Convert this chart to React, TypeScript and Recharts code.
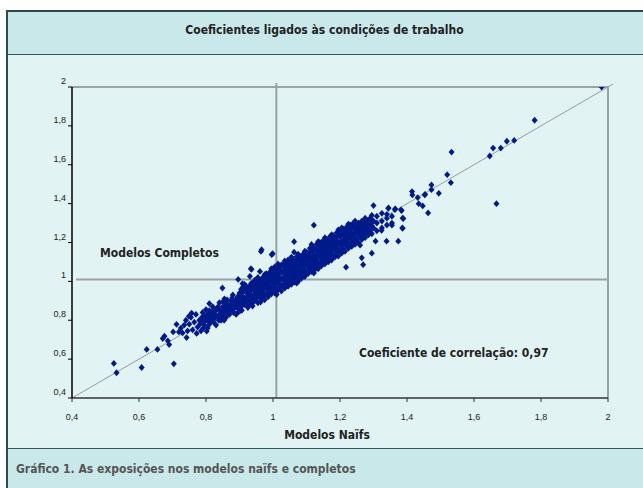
import React from 'react';
import { ScatterChart, Scatter, XAxis, YAxis, ReferenceLine } from 'recharts';

const xTicks = [0.4, 0.6, 0.8, 1, 1.2, 1.4, 1.6, 1.8, 2];
const yTicks = [0.4, 0.6, 0.8, 1, 1.2, 1.4, 1.6, 1.8, 2];

// [modelos naïfs, modelos completos]
const outliers: [number, number][] = [
  [1.981, 2.0], [1.781, 1.829], [1.698, 1.721], [1.72, 1.725], [1.657, 1.686], [1.68, 1.686],
  [1.647, 1.645], [1.533, 1.665], [1.667, 1.4], [1.52, 1.549], [1.531, 1.508], [1.473, 1.496],
  [1.473, 1.472], [1.495, 1.453], [1.415, 1.462], [1.416, 1.445], [1.453, 1.445], [1.432, 1.431],
  [1.435, 1.4], [1.447, 1.388], [1.463, 1.352], [1.3, 1.39], [1.344, 1.376], [1.365, 1.373],
  [1.382, 1.368], [1.389, 1.323], [1.386, 1.275], [1.122, 1.289], [1.063, 1.204], [1.063, 1.15],
  [0.999, 1.142], [1.306, 1.207], [1.339, 1.207], [1.374, 1.207], [1.295, 1.145], [1.265, 1.121],
  [1.269, 1.086], [1.218, 1.073], [1.324, 1.262], [1.355, 1.289], [1.387, 1.273], [1.387, 1.325],
  [1.364, 1.369], [1.384, 1.364], [1.345, 1.378], [1.454, 1.448], [1.26, 1.186], [1.122, 1.043],
  [1.071, 0.991], [1.011, 0.932], [0.966, 1.163], [0.964, 1.154], [0.996, 1.138], [0.934, 1.065],
  [0.936, 1.062], [0.961, 1.051], [0.931, 1.026], [0.909, 0.988], [0.896, 1.01], [0.849, 0.966],
  [0.525, 0.578], [0.533, 0.53], [0.608, 0.557], [0.704, 0.576], [0.623, 0.65], [0.655, 0.65],
  [0.671, 0.706], [0.676, 0.718], [0.686, 0.694], [0.69, 0.675], [0.702, 0.74], [0.712, 0.779],
  [0.719, 0.74], [0.742, 0.711], [0.749, 0.82], [0.757, 0.837], [0.772, 0.732], [0.802, 0.744],
  [0.81, 0.886], [0.854, 0.8], [0.907, 0.851], [0.939, 0.873], [0.963, 0.894], [1.31, 1.335],
  [1.325, 1.35], [1.34, 1.345],
];

const cloudLow: [number, number][] = [
  [0.725, 0.76], [0.73, 0.735], [0.735, 0.775], [0.74, 0.8], [0.745, 0.745], [0.75, 0.78],
  [0.755, 0.815], [0.76, 0.75], [0.765, 0.79], [0.77, 0.83], [0.775, 0.765], [0.78, 0.8],
  [0.785, 0.745], [0.79, 0.84], [0.795, 0.775], [0.8, 0.81], [0.8, 0.855], [0.805, 0.76],
  [0.81, 0.83], [0.815, 0.79], [0.82, 0.87], [0.82, 0.805], [0.825, 0.845], [0.83, 0.775],
  [0.835, 0.82], [0.84, 0.89], [0.84, 0.855], [0.845, 0.8], [0.85, 0.835], [0.85, 0.87],
  [0.855, 0.91], [0.86, 0.815], [0.86, 0.85], [0.865, 0.885], [0.87, 0.83], [0.87, 0.865],
  [0.875, 0.9], [0.88, 0.845], [0.88, 0.93], [0.885, 0.875], [0.89, 0.905], [0.89, 0.83],
  [0.895, 0.86], [0.9, 0.89], [0.9, 0.94],
];

const fillLow: [number, number][] = [
  [0.782, 0.78], [0.788, 0.815], [0.792, 0.76], [0.798, 0.795], [0.803, 0.83], [0.808, 0.775],
  [0.812, 0.81], [0.818, 0.845], [0.823, 0.79], [0.828, 0.825], [0.832, 0.86], [0.838, 0.8],
  [0.842, 0.835], [0.848, 0.815], [0.852, 0.855], [0.857, 0.89], [0.862, 0.835], [0.867, 0.87],
  [0.872, 0.85], [0.877, 0.88], [0.882, 0.86], [0.887, 0.895], [0.892, 0.875], [0.897, 0.915],
  [0.898, 0.845],
];

const fillLow2: [number, number][] = [
  [0.785, 0.79], [0.79, 0.805], [0.796, 0.82], [0.806, 0.8], [0.81, 0.85], [0.814, 0.82],
  [0.82, 0.835], [0.826, 0.81], [0.83, 0.85], [0.836, 0.87], [0.84, 0.82], [0.845, 0.845],
  [0.85, 0.895], [0.855, 0.83], [0.858, 0.87], [0.863, 0.905], [0.868, 0.845], [0.873, 0.875],
  [0.878, 0.915], [0.883, 0.84], [0.886, 0.865], [0.89, 0.885], [0.894, 0.92], [0.898, 0.9],
  [0.902, 0.85], [0.908, 0.88], [0.912, 0.975], [0.918, 0.9], [0.922, 0.96], [0.928, 0.88],
  [0.932, 0.92], [0.938, 0.97], [0.942, 0.905], [0.948, 0.95], [0.952, 0.99], [0.958, 0.94],
  [0.962, 0.975], [0.968, 1.0], [0.972, 0.94], [0.978, 0.985], [0.982, 1.02], [0.988, 0.94],
  [0.992, 1.05], [0.998, 0.95], [1.002, 1.03], [1.008, 1.06],
];

const cloudMid: [number, number][] = [
  [0.905, 0.87], [0.905, 0.905], [0.905, 0.935], [0.905, 0.96],
  [0.915, 0.88], [0.915, 0.915], [0.915, 0.95], [0.915, 0.985],
  [0.925, 0.865], [0.925, 0.895], [0.925, 0.93], [0.925, 0.965],
  [0.935, 0.885], [0.935, 0.92], [0.935, 0.955], [0.935, 0.99],
  [0.945, 0.9], [0.945, 0.935], [0.945, 0.97], [0.945, 1.005],
  [0.955, 0.89], [0.955, 0.925], [0.955, 0.96], [0.955, 0.995], [0.955, 1.02],
  [0.965, 0.91], [0.965, 0.945], [0.965, 0.98], [0.965, 1.01],
  [0.975, 0.905], [0.975, 0.935], [0.975, 0.97], [0.975, 1.0], [0.975, 1.035],
  [0.985, 0.92], [0.985, 0.955], [0.985, 0.99], [0.985, 1.025],
  [0.995, 0.935], [0.995, 0.965], [0.995, 1.0], [0.995, 1.035], [0.995, 1.065],
  [1.005, 0.94], [1.005, 0.975], [1.005, 1.01], [1.005, 1.045], [1.005, 1.075],
  [1.015, 0.955], [1.015, 0.99], [1.015, 1.02], [1.015, 1.055], [1.015, 1.09],
  [1.025, 0.95], [1.025, 0.98], [1.025, 1.015], [1.025, 1.05], [1.025, 1.085],
  [1.035, 0.965], [1.035, 1.0], [1.035, 1.035], [1.035, 1.07], [1.035, 1.105],
  [1.045, 0.975], [1.045, 1.01], [1.045, 1.045], [1.045, 1.08], [1.045, 1.11],
  [1.055, 0.985], [1.055, 1.02], [1.055, 1.055], [1.055, 1.09], [1.055, 1.125],
  [1.065, 0.995], [1.065, 1.03], [1.065, 1.065], [1.065, 1.1],
  [1.075, 1.0], [1.075, 1.04], [1.075, 1.075], [1.075, 1.11], [1.075, 1.14],
  [1.085, 1.015], [1.085, 1.05], [1.085, 1.085], [1.085, 1.12],
  [1.095, 1.025], [1.095, 1.06], [1.095, 1.095], [1.095, 1.13], [1.095, 1.155],
];

const fillMid: [number, number][] = [
  [0.91, 0.89], [0.91, 0.92], [0.91, 0.95],
  [0.92, 0.88], [0.92, 0.91], [0.92, 0.945], [0.92, 0.975],
  [0.93, 0.9], [0.93, 0.94], [0.93, 0.975],
  [0.94, 0.89], [0.94, 0.925], [0.94, 0.96], [0.94, 0.99],
  [0.95, 0.91], [0.95, 0.945], [0.95, 0.98], [0.95, 1.01],
  [0.96, 0.925], [0.96, 0.96], [0.96, 0.995],
  [0.97, 0.92], [0.97, 0.955], [0.97, 0.99], [0.97, 1.02],
  [0.98, 0.935], [0.98, 0.97], [0.98, 1.005], [0.98, 1.04],
  [0.99, 0.945], [0.99, 0.975], [0.99, 1.01], [0.99, 1.045],
  [1.0, 0.955], [1.0, 0.99], [1.0, 1.02], [1.0, 1.055],
  [1.01, 0.96], [1.01, 0.995], [1.01, 1.03], [1.01, 1.065],
  [1.02, 0.97], [1.02, 1.005], [1.02, 1.04], [1.02, 1.07],
  [1.03, 0.98], [1.03, 1.015], [1.03, 1.05], [1.03, 1.085],
  [1.04, 0.99], [1.04, 1.025], [1.04, 1.06], [1.04, 1.09],
  [1.05, 1.0], [1.05, 1.035], [1.05, 1.07], [1.05, 1.1],
  [1.06, 1.005], [1.06, 1.045], [1.06, 1.08], [1.06, 1.11],
  [1.07, 1.015], [1.07, 1.05], [1.07, 1.085], [1.07, 1.125],
  [1.08, 1.025], [1.08, 1.06], [1.08, 1.1], [1.08, 1.13],
  [1.09, 1.035], [1.09, 1.075], [1.09, 1.11], [1.09, 1.14],
  [1.1, 1.045], [1.1, 1.085], [1.1, 1.12], [1.1, 1.15],
];

const cloudHigh: [number, number][] = [
  [1.105, 1.04], [1.105, 1.075], [1.105, 1.11], [1.105, 1.145],
  [1.115, 1.05], [1.115, 1.085], [1.115, 1.12], [1.115, 1.155], [1.115, 1.19],
  [1.125, 1.06], [1.125, 1.095], [1.125, 1.13], [1.125, 1.165],
  [1.135, 1.065], [1.135, 1.1], [1.135, 1.14], [1.135, 1.175], [1.135, 1.205],
  [1.145, 1.08], [1.145, 1.115], [1.145, 1.15], [1.145, 1.185],
  [1.155, 1.09], [1.155, 1.125], [1.155, 1.16], [1.155, 1.195], [1.155, 1.225],
  [1.165, 1.1], [1.165, 1.135], [1.165, 1.17], [1.165, 1.205],
  [1.175, 1.11], [1.175, 1.145], [1.175, 1.18], [1.175, 1.215], [1.175, 1.24],
  [1.185, 1.125], [1.185, 1.16], [1.185, 1.19], [1.185, 1.225],
  [1.195, 1.13], [1.195, 1.165], [1.195, 1.2], [1.195, 1.235], [1.195, 1.265],
  [1.205, 1.145], [1.205, 1.18], [1.205, 1.21], [1.205, 1.245], [1.205, 1.275],
  [1.215, 1.155], [1.215, 1.19], [1.215, 1.225], [1.215, 1.26],
  [1.225, 1.17], [1.225, 1.2], [1.225, 1.235], [1.225, 1.27], [1.225, 1.295],
  [1.235, 1.18], [1.235, 1.215], [1.235, 1.245], [1.235, 1.28],
  [1.245, 1.19], [1.245, 1.225], [1.245, 1.26], [1.245, 1.29], [1.245, 1.31],
  [1.255, 1.2], [1.255, 1.24], [1.255, 1.27], [1.255, 1.3],
  [1.265, 1.215], [1.265, 1.25], [1.265, 1.28], [1.265, 1.31],
  [1.275, 1.225], [1.275, 1.26], [1.275, 1.295], [1.275, 1.325],
  [1.285, 1.24], [1.285, 1.27], [1.285, 1.3],
  [1.295, 1.245], [1.295, 1.285], [1.295, 1.315], [1.295, 1.34],
  [1.31, 1.26], [1.31, 1.3], [1.325, 1.275], [1.325, 1.31],
  [1.34, 1.29], [1.34, 1.325], [1.355, 1.3], [1.355, 1.335],
];

const fillHigh: [number, number][] = [
  [1.11, 1.06], [1.11, 1.095], [1.11, 1.13], [1.11, 1.17],
  [1.12, 1.07], [1.12, 1.105], [1.12, 1.14], [1.12, 1.175],
  [1.13, 1.08], [1.13, 1.115], [1.13, 1.155], [1.13, 1.19],
  [1.14, 1.09], [1.14, 1.13], [1.14, 1.165], [1.14, 1.2],
  [1.15, 1.1], [1.15, 1.14], [1.15, 1.175], [1.15, 1.21],
  [1.16, 1.11], [1.16, 1.15], [1.16, 1.185], [1.16, 1.215],
  [1.17, 1.12], [1.17, 1.16], [1.17, 1.195], [1.17, 1.23],
  [1.18, 1.13], [1.18, 1.17], [1.18, 1.205], [1.18, 1.235],
  [1.19, 1.14], [1.19, 1.18], [1.19, 1.21], [1.19, 1.25],
  [1.2, 1.155], [1.2, 1.195], [1.2, 1.23], [1.2, 1.26],
  [1.21, 1.165], [1.21, 1.205], [1.21, 1.24], [1.21, 1.27],
  [1.22, 1.18], [1.22, 1.215], [1.22, 1.25], [1.22, 1.28],
  [1.23, 1.195], [1.23, 1.23], [1.23, 1.26], [1.23, 1.29],
  [1.24, 1.205], [1.24, 1.24], [1.24, 1.275], [1.24, 1.3],
  [1.25, 1.215], [1.25, 1.255], [1.25, 1.285],
  [1.26, 1.23], [1.26, 1.265], [1.26, 1.295],
  [1.27, 1.24], [1.27, 1.275], [1.27, 1.31],
  [1.28, 1.25], [1.28, 1.285], [1.28, 1.315],
  [1.29, 1.26], [1.29, 1.295], [1.29, 1.325],
  [1.3, 1.275], [1.3, 1.31],
];

const points = [
  ...cloudLow, ...fillLow, ...fillLow2, ...cloudMid, ...fillMid, ...cloudHigh, ...fillHigh, ...outliers,
].map(([x, y]) => ({ x, y }));

const fmt = (v: number) => String(v).replace('.', ',');

const Diamond = (props: any) => {
  const { cx, cy } = props;
  if (cx == null || cy == null) return null;
  return (
    <polygon
      points={`${cx},${cy - 3.4} ${cx + 3},${cy} ${cx},${cy + 3.4} ${cx - 3},${cy}`}
      fill="#001a8c"
    />
  );
};

const YTick = (props: any) => {
  const { x, y, payload } = props;
  return (
    <text x={x} y={y - 3} textAnchor="end" fontSize={9} fill="#222" fontFamily="Liberation Sans, Arial, sans-serif">
      {fmt(payload.value)}
    </text>
  );
};

const XTick = (props: any) => {
  const { x, y, payload } = props;
  return (
    <text x={x} y={y + 16} textAnchor="middle" fontSize={9} fill="#222" fontFamily="Liberation Sans, Arial, sans-serif">
      {fmt(payload.value)}
    </text>
  );
};

const grey = '#9aa3a3';
const bold = '"DejaVu Sans Condensed", "Open Sans", sans-serif';

export default function App() {
  return (
    <div style={{ position: 'absolute', left: 0, top: 0, width: 643, height: 488, background: '#fff', overflow: 'hidden' }}>
      <div
        style={{
          position: 'absolute', left: 6, top: 10, width: 640, height: 480,
          background: '#e1f3f3', borderTop: '2px solid #2e4a4a', borderLeft: '2px solid #2e4a4a',
          boxSizing: 'border-box',
        }}
      />
      <div
        style={{
          position: 'absolute', left: 8, top: 12, width: 640, height: 43,
          background: '#c8e8e9', borderBottom: '1.5px solid #3a5555', boxSizing: 'border-box',
        }}
      />
      <div
        style={{
          position: 'absolute', left: 8, top: 448, width: 640, height: 42,
          background: '#c8e8e9', borderTop: '1.5px solid #3a5555', boxSizing: 'border-box',
        }}
      />
      <div
        style={{
          position: 'absolute', left: 6, width: 637, top: 23, textAlign: 'center',
          fontFamily: bold, fontWeight: 'bold', fontSize: 12, color: '#222',
        }}
      >
        Coeficientes ligados às condições de trabalho
      </div>
      <div
        style={{
          position: 'absolute', left: 16, top: 462,
          fontFamily: bold, fontWeight: 'bold', fontSize: 12, color: '#555',
        }}
      >
        Gráfico 1. As exposições nos modelos naïfs e completos
      </div>
      <div style={{ position: 'absolute', left: 0, top: 0 }}>
        <ScatterChart width={643} height={448} margin={{ top: 87, right: 35, bottom: 30, left: 42 }}>
          <XAxis
            type="number" dataKey="x" domain={[0.4, 2]} ticks={xTicks} allowDataOverflow
            stroke="#333" tickLine={{ stroke: '#333' }} tickSize={4} tick={<XTick />} height={20}
            axisLine={{ stroke: '#333', strokeWidth: 1.5 }}
          />
          <YAxis
            type="number" dataKey="y" domain={[0.4, 2]} ticks={yTicks} allowDataOverflow
            stroke="#000" tickLine={{ stroke: '#000' }} tickSize={4} tick={<YTick />} width={30}
            axisLine={{ stroke: '#000', strokeWidth: 1.5 }}
          />
          <ReferenceLine y={2} stroke={grey} strokeWidth={2} />
          <ReferenceLine x={2} stroke={grey} strokeWidth={2} />
          <Scatter data={points} shape={<Diamond />} isAnimationActive={false} />
          <ReferenceLine
            segment={[{ x: 0.4, y: 0.4 }, { x: 2.015, y: 2.015 }]}
            stroke="#9a9a9a" strokeWidth={1} ifOverflow="visible"
          />
          <ReferenceLine
            segment={[{ x: 1.01, y: 0.4 }, { x: 1.01, y: 2.02 }]}
            stroke={grey} strokeWidth={2} ifOverflow="visible"
          />
          <ReferenceLine
            segment={[{ x: 0.412, y: 1.01 }, { x: 2, y: 1.01 }]}
            stroke={grey} strokeWidth={2} ifOverflow="visible"
          />
        </ScatterChart>
      </div>
      <div
        style={{
          position: 'absolute', left: 100, top: 246,
          fontFamily: bold, fontWeight: 'bold', fontSize: 12, color: '#222',
        }}
      >
        Modelos Completos
      </div>
      <div
        style={{
          position: 'absolute', left: 359, top: 346,
          fontFamily: bold, fontWeight: 'bold', fontSize: 12, color: '#222',
        }}
      >
        Coeficiente de correlação: 0,97
      </div>
      <div
        style={{
          position: 'absolute', left: 240, width: 174, top: 428, textAlign: 'center',
          fontFamily: bold, fontWeight: 'bold', fontSize: 12, color: '#222',
        }}
      >
        Modelos Naïfs
      </div>
    </div>
  );
}
